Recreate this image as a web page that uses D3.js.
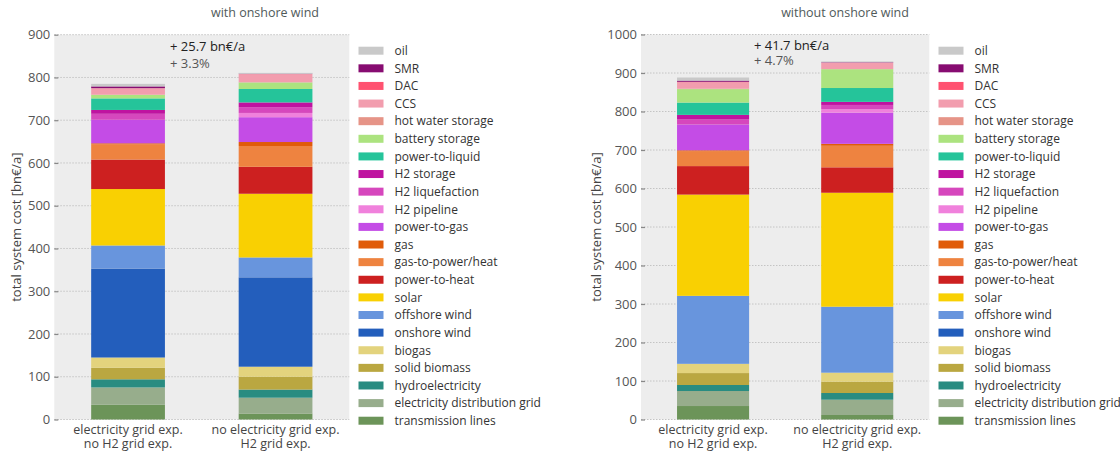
<!DOCTYPE html>
<html>
<head>
<meta charset="utf-8">
<script src="https://cdn.jsdelivr.net/npm/d3@7"></script>
<style>
  html, body { margin: 0; padding: 0; background: #ffffff; }
  svg { display: block; font-family: "Open Sans", "DejaVu Sans", sans-serif; }
</style>
</head>
<body>
<svg id="chart" width="1120" height="452"></svg>
<script>
// Cost components, listed top of legend first (oil) down to transmission lines.
const techs = [
  "oil", "SMR", "DAC", "CCS", "hot water storage", "battery storage",
  "power-to-liquid", "H2 storage", "H2 liquefaction", "H2 pipeline",
  "power-to-gas", "gas", "gas-to-power/heat", "power-to-heat", "solar",
  "offshore wind", "onshore wind", "biogas", "solid biomass",
  "hydroelectricity", "electricity distribution grid", "transmission lines"
];
const techColors = [
  "#c9c9c9", "#870c71", "#ff5270", "#f29dae", "#e69487", "#ace37f",
  "#25c49a", "#bf13a0", "#d647bd", "#f081dc",
  "#c44ce6", "#e05b09", "#ee8340", "#cd2020", "#f9d002",
  "#6895dd", "#235ebc", "#e3d37d", "#baa741",
  "#298c81", "#97ad8c", "#6c9459"
];

// Scenario labels (two lines each)
const scenarioLines = [
  ["electricity grid exp.", "no H2 grid exp."],
  ["no electricity grid exp.", "H2 grid exp."]
];

// Annual system cost per component [bn€/a], same order as techs
const withOnshoreElecGrid = [6, 4, 0, 15, 1, 8, 27, 9, 14, 0, 55, 2, 36, 69, 132, 54, 208, 24, 27, 19, 40, 35];
const withOnshoreH2Grid   = [2, 0.7, 0, 19.5, 0, 15.5, 31.4, 11, 13.6, 10, 58, 9.3, 48.7, 63, 149, 46.5, 209, 23.5, 30, 19, 37, 14];
const withoutOnshoreElecGrid = [8.1, 3, 1, 17, 1, 35, 32, 12, 13, 0, 67, 2, 39, 74, 263, 176.6, 0, 24, 31, 15.6, 39, 35];
const withoutOnshoreH2Grid   = [2, 1, 0, 17, 0, 49, 36, 8, 11, 9, 81, 5, 56, 66, 296, 171.4, 0, 23.4, 29.4, 17.4, 39.7, 11.7];

// Axis ticks
const leftTicks  = [0, 100, 200, 300, 400, 500, 600, 700, 800, 900];
const rightTicks = [0, 100, 200, 300, 400, 500, 600, 700, 800, 900, 1000];

const panelTitles = ["with onshore wind", "without onshore wind"];
const yAxisTitle = "total system cost [bn€/a]";

const svg = d3.select("#chart");

function drawPanel(opt) {
  const g = svg.append("g");
  const bars = opt.bars;

  const x = d3.scaleBand()
    .domain(d3.range(bars.length))
    .range([opt.x0, opt.x1])
    .paddingInner(0.5)
    .paddingOuter(0.25);

  const y = d3.scaleLinear()
    .domain([0, opt.ticks[opt.ticks.length - 1]])
    .range([opt.yBottom, opt.yTop]);

  // plot background
  g.append("rect")
    .attr("x", opt.x0).attr("y", opt.yTop)
    .attr("width", opt.x1 - opt.x0).attr("height", opt.yBottom - opt.yTop)
    .attr("fill", "#ededed");

  // dotted grid
  g.selectAll("line.grid").data(opt.ticks).join("line")
    .attr("class", "grid")
    .attr("x1", opt.x0).attr("x2", opt.x1)
    .attr("y1", d => y(d)).attr("y2", d => y(d))
    .attr("stroke", "#c4c4c4").attr("stroke-width", 1)
    .attr("stroke-dasharray", "1.5,1.5");

  // y axis with short ticks and labels
  const yAxis = d3.axisLeft(y).tickValues(opt.ticks)
    .tickFormat(d3.format("d")).tickSize(-4).tickPadding(4);
  const ya = g.append("g").attr("transform", `translate(${opt.x0},0)`).call(yAxis);
  ya.select(".domain").remove();
  ya.selectAll(".tick line").attr("stroke", "#888").attr("stroke-width", 1.2);
  ya.selectAll(".tick text")
    .attr("fill", "#555").style("font-size", "13px")
    .attr("font-family", "'Open Sans', sans-serif");

  // stacked bars: bottom of stack is the last tech
  const order = d3.range(techs.length).reverse();
  bars.forEach((vals, bi) => {
    let acc = 0;
    order.forEach(ti => {
      const v = vals[ti];
      const y0 = acc, y1 = acc + v;
      acc = y1;
      if (v <= 0) return;
      g.append("rect")
        .attr("x", x(bi))
        .attr("width", x.bandwidth())
        .attr("y", y(y1))
        .attr("height", y(y0) - y(y1))
        .attr("fill", techColors[ti]);
    });
  });

  // scenario labels below the bars
  scenarioLines.forEach((lines, bi) => {
    lines.forEach((ln, li) => {
      g.append("text")
        .attr("x", x(bi) + x.bandwidth() / 2)
        .attr("y", opt.yBottom + 14.5 + li * 14)
        .attr("text-anchor", "middle")
        .attr("fill", "#444")
        .style("font-size", "12.5px")
        .text(ln);
    });
  });

  // cost difference annotation
  const tot0 = d3.sum(bars[0]);
  const tot1 = d3.sum(bars[1]);
  const diff = Math.round((tot1 - tot0) * 10) / 10;
  g.append("text")
    .attr("x", opt.annX).attr("y", opt.annY)
    .attr("fill", "#222").style("font-size", "13px")
    .text(`+ ${diff.toFixed(1)} bn€/a`);
  g.append("text")
    .attr("x", opt.annX).attr("y", opt.annY + opt.annGap)
    .attr("fill", "#555").style("font-size", "13px")
    .text(`+ ${(diff / tot0 * 100).toFixed(1)}%`);

  // panel title
  g.append("text")
    .attr("x", opt.titleX).attr("y", 17)
    .attr("text-anchor", "middle")
    .attr("fill", "#505a5a").style("font-size", "12.5px")
    .text(opt.title);

  // y axis title
  g.append("text")
    .attr("transform", `translate(${opt.yTitleX},${(opt.yTop + opt.yBottom) / 2}) rotate(-90)`)
    .attr("text-anchor", "middle")
    .attr("fill", "#444").style("font-size", "13px")
    .text(yAxisTitle);

  // legend
  const lg = g.append("g");
  techs.forEach((name, i) => {
    const cy = 50.7 + i * 17.62;
    lg.append("rect")
      .attr("x", opt.legX).attr("y", cy - 4)
      .attr("width", 25).attr("height", 8)
      .attr("fill", techColors[i]);
    lg.append("text")
      .attr("x", opt.legX + 36).attr("y", cy + 4.3)
      .attr("fill", "#333").style("font-size", "12px")
      .text(name);
  });
}

drawPanel({
  bars: [withOnshoreElecGrid, withOnshoreH2Grid],
  ticks: leftTicks,
  x0: 54.3, x1: 349.3, yTop: 34.7, yBottom: 419.5,
  annX: 170, annY: 51, annGap: 17,
  title: panelTitles[0], titleX: 265,
  yTitleX: 21,
  legX: 358.5
});

drawPanel({
  bars: [withoutOnshoreElecGrid, withoutOnshoreH2Grid],
  ticks: rightTicks,
  x0: 641, x1: 929.3, yTop: 34.5, yBottom: 419.5,
  annX: 754, annY: 50, annGap: 15,
  title: panelTitles[1], titleX: 845,
  yTitleX: 601,
  legX: 938.5
});
</script>
</body>
</html>
